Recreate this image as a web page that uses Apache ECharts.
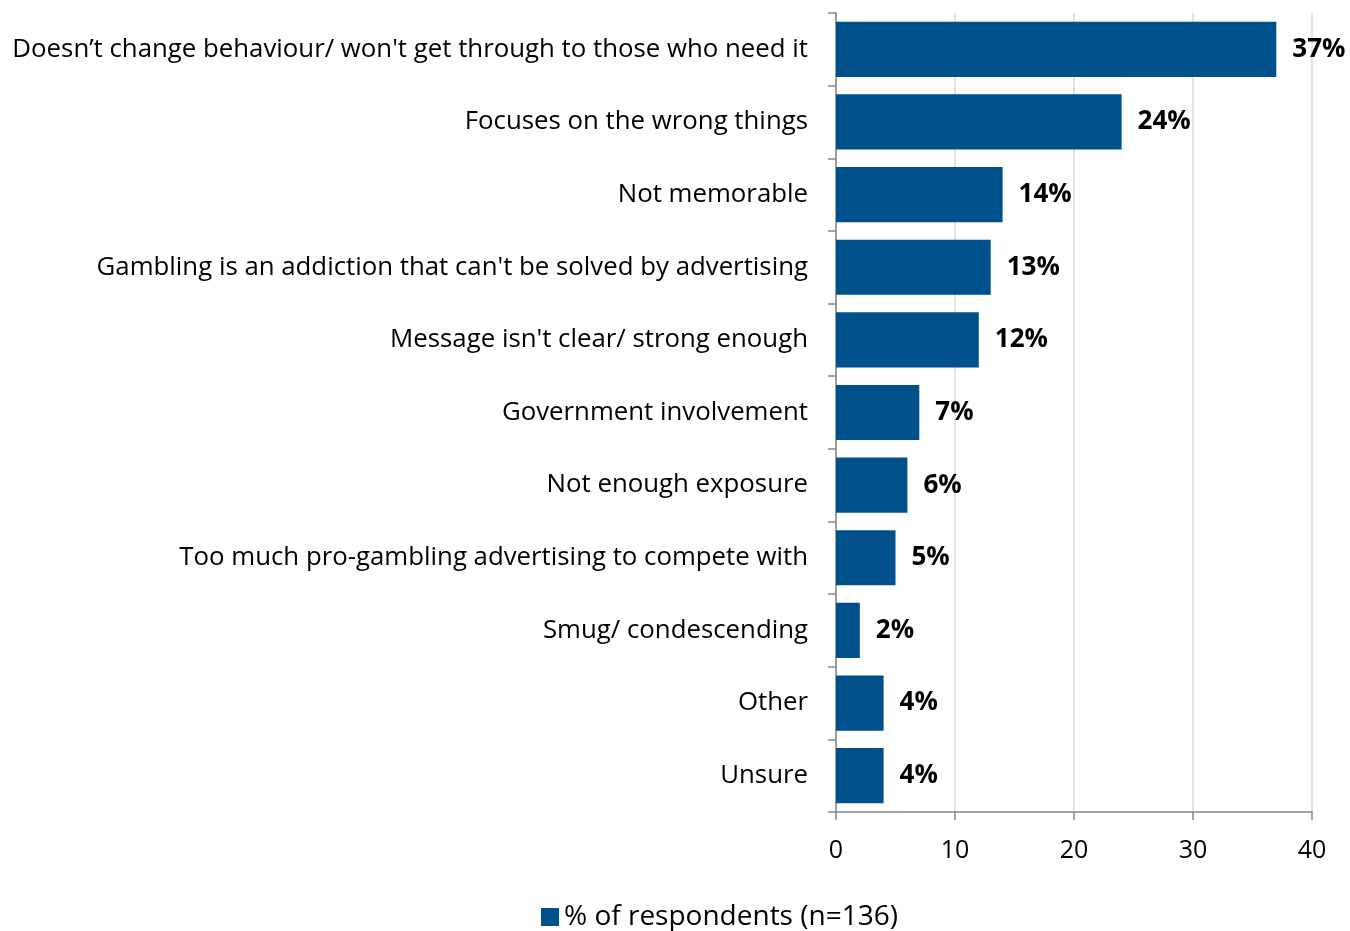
<!DOCTYPE html>
<html>
<head>
<meta charset="utf-8">
<script src="https://cdn.jsdelivr.net/npm/echarts@6/dist/echarts.min.js"></script>
<style>
  html, body { margin: 0; padding: 0; background: #fff; }
  #chart { width: 1350px; height: 931px; }
</style>
</head>
<body>
<div id="chart"></div>
<script>
// Reasons the campaign is seen as ineffective
const categories = [
  "Doesn\u2019t change behaviour/ won't get through to those who need it",
  "Focuses on the wrong things",
  "Not memorable",
  "Gambling is an addiction that can't be solved by advertising",
  "Message isn't clear/ strong enough",
  "Government involvement",
  "Not enough exposure",
  "Too much pro-gambling advertising to compete with",
  "Smug/ condescending",
  "Other",
  "Unsure"
];
const values = [37, 24, 14, 13, 12, 7, 6, 5, 2, 4, 4];
const seriesName = "% of respondents (n=136)";
const xTicks = [0, 10, 20, 30, 40];

const FONT = "'Open Sans', sans-serif";
const chart = echarts.init(document.getElementById('chart'));

chart.setOption({
  animation: false,
  textStyle: { fontFamily: FONT },
  grid: { left: 836, right: 38, top: 13, bottom: 119, containLabel: false },
  xAxis: {
    type: 'value',
    min: xTicks[0],
    max: xTicks[xTicks.length - 1],
    interval: 10,
    axisLine: { show: true, lineStyle: { color: '#868686', width: 1.5 } },
    axisTick: { show: true, length: 8, lineStyle: { color: '#868686', width: 1.5 } },
    axisLabel: { fontSize: 25, color: '#000', margin: 26, fontFamily: FONT },
    splitLine: { show: true, lineStyle: { color: '#D9D9D9', width: 1.5 } }
  },
  yAxis: {
    type: 'category',
    data: categories,
    inverse: true,
    axisLine: { show: true, lineStyle: { color: '#868686', width: 1.5 } },
    axisTick: { show: true, length: 8, alignWithLabel: false, lineStyle: { color: '#868686', width: 1.5 } },
    axisLabel: { fontSize: 25.8, color: '#000', margin: 28, fontFamily: FONT },
    splitLine: { show: false }
  },
  legend: {
    data: [seriesName],
    left: 536,
    top: 898,
    itemWidth: 18,
    itemHeight: 18,
    itemGap: 7,
    icon: 'rect',
    textStyle: { fontSize: 28, color: '#000', fontFamily: FONT }
  },
  series: [{
    name: seriesName,
    type: 'bar',
    data: values,
    barCategoryGap: '24%',
    itemStyle: { color: '#00508C' },
    label: {
      show: true,
      position: 'right',
      distance: 16,
      formatter: p => p.value + '%',
      fontSize: 26,
      fontWeight: 'bold',
      color: '#000',
      fontFamily: FONT
    }
  }]
});
</script>
</body>
</html>
